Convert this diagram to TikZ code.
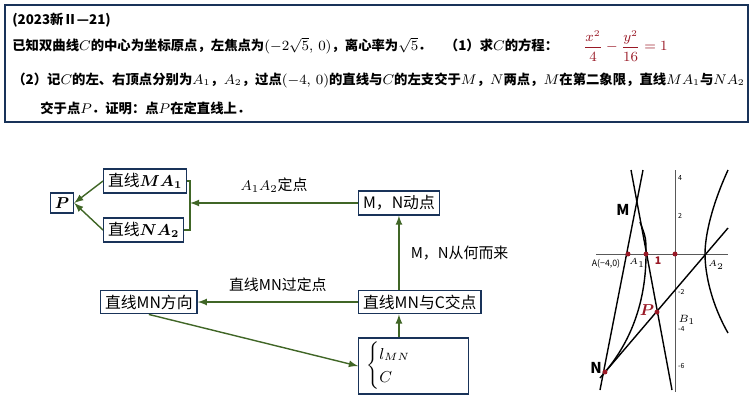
\documentclass[tikz,border=0pt]{standalone}
\usepackage{amsmath,amsbsy}
\usepackage{fontspec}
\setmainfont{Noto Sans CJK SC}
\usetikzlibrary{positioning, arrows}

\definecolor{boxblue}{rgb}{0.1,0.2,0.35}
\definecolor{arrgreen}{rgb}{0.25,0.4,0.15}
\definecolor{darkred}{rgb}{0.6,0.1,0.15}

\begin{document}
\begin{tikzpicture}[x=0.02cm,y=-0.02cm,
	box/.style={draw=boxblue,thick,fill=white,inner sep=2.5pt,font=\fontsize{9}{11}\selectfont},
	link/.style={->,>=latex,arrgreen,thick},
	txt/.style={anchor=west,font=\fontsize{7.6}{9}\selectfont\bfseries,inner sep=0pt},
	lbl/.style={font=\fontsize{8.5}{10}\selectfont},
	curve/.style={black,line width=0.8pt},
	dot/.style={circle,fill=darkred,inner sep=1pt},
	tiny/.style={font=\fontsize{4}{5}\selectfont,inner sep=1pt}]
	\useasboundingbox (0,0) rectangle (753,417);
	% problem statement
	\draw[boxblue,thick] (5,5) rectangle (748,122);
	\node (title) at (12,20) [txt] {(2023新Ⅱ—21)};
	\node (line1) at (12,46) [txt] {已知双曲线$C$的中心为坐标原点，左焦点为$(-2\sqrt{5},\,0)$，离心率为$\sqrt{5}$．\quad （1）求$C$的方程：};
	\node (eqn) at (583,46) [txt,text=darkred] {$\dfrac{x^2}{4}-\dfrac{y^2}{16}=1$};
	\node (line2) at (12,80) [txt] {（2）记$C$的左、右顶点分别为$A_1$，$A_2$，过点$(-4,\,0)$的直线与$C$的左支交于$M$，$N$两点，$M$在第二象限，直线$MA_1$与$NA_2$};
	\node (line3) at (40,108) [txt] {交于点$P$．证明：点$P$在定直线上．};

	% flow chart
	\node (P) at (62,203) [box] {$\boldsymbol{P}$};
	\node (MA1) at (103,181) [box,anchor=west] {直线$\boldsymbol{MA_1}$};
	\node (NA2) at (103,230) [box,anchor=west] {直线$\boldsymbol{NA_2}$};
	\node (moving) at (358,203) [box,anchor=west] {M，N动点};
	\node (dir) at (100,302) [box,anchor=west] {直线MN方向};
	\node (meet) at (358,302) [box,anchor=west] {直线MN与C交点};
	\node (sys) at (358,366) [box,anchor=west,minimum width=2.2cm,minimum height=1cm,text width=1.9cm] {$\begin{cases} l_{MN}\\ C\end{cases}$};
	\coordinate (join) at (190,203);
	\draw[arrgreen,thick] (MA1.east) -| (join) |- (NA2.east);
	\draw[link] (MA1.west) -- (P.east);
	\draw[link] (NA2.west) -- (P.east);
	\draw[link] (moving) -- (join) node[midway,above=2pt,lbl,text=black] {$A_1A_2$定点};
	\draw[link] (meet.north -| moving) -- (moving) node[midway,right=3pt,lbl,text=black] {M，N从何而来};
	\draw[link] (meet) -- (dir) node[midway,above=2pt,lbl,text=black] {直线MN过定点};
	\draw[link] (dir.south) -- (sys.west);
	\draw[link] (sys.north -| moving) -- (meet.south -| moving);

	% sketch of the curves
	\coordinate (O) at (675,254);
	\coordinate (A) at (628,254);
	\coordinate (A1) at (646,254);
	\coordinate (A2) at (705,254);
	\coordinate (M) at (637,203);
	\coordinate (N) at (605,372);
	\coordinate (Pt) at (657,312);
	\draw[gray!70!black] (596,254) -- (728,254);
	\draw[gray!70!black] (675,170) -- (675,392);
	\foreach \t/\v in {178/4,216/2,292/-2,329/-4,366/-6}
		\node[tiny,anchor=west] at (676,\t) {\v};
	\draw[curve] (728,170) .. controls (712,205) and (705,235) .. (A2) .. controls (705,275) and (712,305) .. (728,333);
	\draw[curve] (640,222) .. controls (646,238) .. (A1) .. controls (646,300) and (632,340) .. (N);
	\draw[curve] (631,170) -- (672,390);
	\draw[curve] (643,170) -- (600,390);
	\draw[curve] (600,378) -- (728,228);
	\node (dA) at (A) [dot] {};
	\node (dA1) at (A1) [dot] {};
	\node (dO) at (O) [dot] {};
	\node (dP) at (Pt) [dot] {};
	\node (dN) at (N) [dot] {};
	\node[lbl] at (623,210) {\textbf{M}};
	\node[lbl] at (596,368) {\textbf{N}};
	\node[font=\fontsize{5}{6}\selectfont] at (606,264) {A(−4,0)};
	\node[font=\fontsize{5}{6}\selectfont] at (637,263) {$A_1$};
	\node[font=\fontsize{5}{6}\selectfont] at (716,265) {$A_2$};
	\node[font=\fontsize{6}{7}\selectfont,text=darkred] at (658,261) {\textbf{1}};
	\node[font=\fontsize{9}{10}\selectfont,text=darkred] at (647,310) {$\boldsymbol{P}$};
	\node[font=\fontsize{6}{7}\selectfont] at (687,320) {$B_1$};
\end{tikzpicture}
\end{document}
